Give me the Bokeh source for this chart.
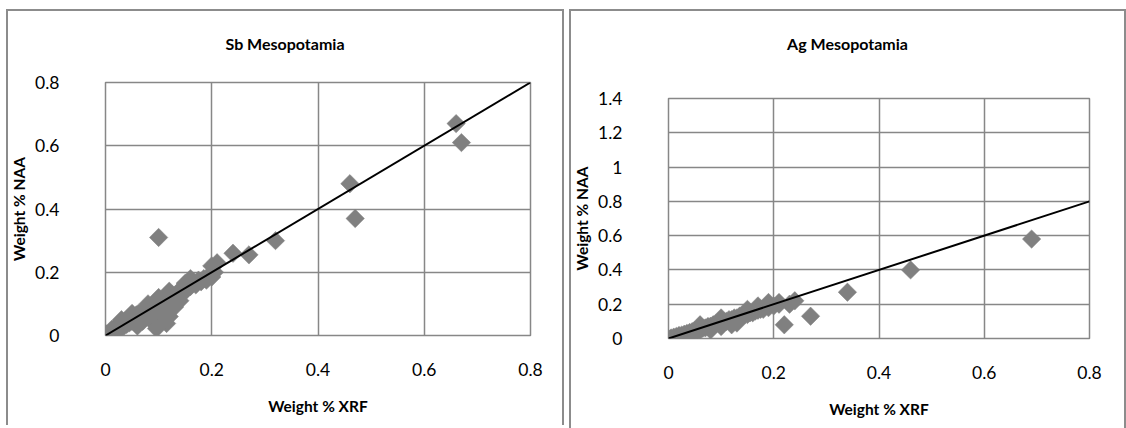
import math
from bokeh.plotting import figure
from bokeh.layouts import row, column
from bokeh.models import Range1d, FixedTicker, CustomJSTickFormatter, Div, Spacer
from bokeh.embed import file_html
from bokeh.resources import INLINE

# ---------------- data ----------------
sb_title = "Sb Mesopotamia"
ag_title = "Ag Mesopotamia"
x_label = "Weight % XRF"
y_label = "Weight % NAA"

sb_xrf = [0.0, 0.002, 0.005, 0.008, 0.01, 0.012, 0.015, 0.018, 0.02, 0.022, 0.025, 0.028,
          0.03, 0.032, 0.035, 0.038, 0.04, 0.042, 0.045, 0.048, 0.05, 0.052, 0.055, 0.058,
          0.06, 0.062, 0.065, 0.068, 0.07, 0.072, 0.075, 0.078, 0.08, 0.082, 0.085, 0.088,
          0.09, 0.092, 0.095, 0.098, 0.10, 0.10, 0.105, 0.11, 0.115, 0.12, 0.125, 0.13,
          0.135, 0.14, 0.145, 0.15, 0.15, 0.155, 0.16, 0.165, 0.17, 0.175, 0.18, 0.185,
          0.19, 0.195, 0.20, 0.20, 0.21, 0.205, 0.24, 0.27, 0.32, 0.10, 0.46, 0.47,
          0.66, 0.67, 0.12, 0.09, 0.10, 0.11, 0.13, 0.14, 0.06, 0.07, 0.03, 0.05,
          0.08, 0.12, 0.16, 0.115, 0.096]
sb_naa = [0.0, 0.005, 0.003, 0.01, 0.012, 0.02, 0.01, 0.025, 0.015, 0.03, 0.02, 0.035,
          0.025, 0.04, 0.03, 0.045, 0.035, 0.05, 0.04, 0.055, 0.045, 0.06, 0.05, 0.065,
          0.055, 0.07, 0.06, 0.075, 0.065, 0.08, 0.07, 0.085, 0.075, 0.09, 0.08, 0.095,
          0.085, 0.10, 0.09, 0.105, 0.095, 0.12, 0.10, 0.11, 0.12, 0.115, 0.13, 0.12,
          0.135, 0.13, 0.15, 0.14, 0.165, 0.15, 0.155, 0.17, 0.16, 0.175, 0.17, 0.18,
          0.175, 0.19, 0.185, 0.22, 0.23, 0.20, 0.26, 0.255, 0.30, 0.31, 0.48, 0.37,
          0.67, 0.61, 0.06, 0.04, 0.05, 0.08, 0.09, 0.11, 0.03, 0.045, 0.05, 0.07,
          0.10, 0.14, 0.18, 0.038, 0.022]

ag_xrf = [0.0, 0.005, 0.01, 0.015, 0.02, 0.025, 0.03, 0.035, 0.04, 0.045, 0.05, 0.055,
          0.06, 0.065, 0.07, 0.075, 0.08, 0.085, 0.09, 0.095, 0.10, 0.105, 0.11, 0.115,
          0.12, 0.125, 0.13, 0.135, 0.14, 0.145, 0.15, 0.155, 0.16, 0.165, 0.17, 0.175,
          0.18, 0.19, 0.20, 0.21, 0.23, 0.24, 0.22, 0.27, 0.34, 0.46, 0.69, 0.05,
          0.08, 0.10, 0.12, 0.13, 0.06, 0.10, 0.15, 0.17, 0.19, 0.21]
ag_naa = [0.0, 0.003, 0.008, 0.012, 0.018, 0.02, 0.025, 0.03, 0.035, 0.04, 0.045, 0.05,
          0.052, 0.06, 0.062, 0.07, 0.072, 0.08, 0.085, 0.09, 0.095, 0.10, 0.10, 0.11,
          0.11, 0.12, 0.12, 0.13, 0.13, 0.14, 0.14, 0.15, 0.15, 0.16, 0.165, 0.17,
          0.17, 0.18, 0.19, 0.20, 0.20, 0.22, 0.08, 0.13, 0.27, 0.40, 0.58, 0.02,
          0.05, 0.07, 0.08, 0.09, 0.08, 0.12, 0.17, 0.19, 0.21, 0.21]

ref_line_x = [0.0, 0.8]
ref_line_y = [0.0, 0.8]

x_ticks = [0, 0.2, 0.4, 0.6, 0.8]
sb_y_ticks = [0, 0.2, 0.4, 0.6, 0.8]
ag_y_ticks = [0, 0.2, 0.4, 0.6, 0.8, 1.0, 1.2, 1.4]

# ---------------- style ----------------
FONT = "Lato"
GRID = "#878787"
MARK = "#808080"
EDGE = "#8c8c8c"
fmt_code = "var s = tick.toFixed(1); if (s.endsWith('.0')) { s = s.slice(0, -2); } return s;"


def make_chart(title, xs, ys, y_max, y_ticks, fw, fh, bl, br, title_h):
    p = figure(frame_width=fw, frame_height=fh,
               x_range=Range1d(0, 0.8), y_range=Range1d(0, y_max),
               min_border_left=bl, min_border_right=br,
               min_border_top=10, min_border_bottom=90,
               output_backend="svg", toolbar_location=None)
    p.background_fill_color = "white"
    p.border_fill_alpha = 0
    p.outline_line_color = GRID
    p.outline_line_width = 1.5
    p.styles = {"background": "white",
                "box-shadow": f"inset 2px 0 0 {EDGE}, inset -2px 0 0 {EDGE}"}

    for ax in (p.xaxis[0], p.yaxis[0]):
        ax.axis_line_color = None
        ax.major_tick_line_color = None
        ax.minor_tick_line_color = None
        ax.major_tick_out = 0
        ax.major_tick_in = 0
        ax.minor_tick_out = 0
        ax.major_label_text_font = FONT
        ax.major_label_text_font_size = "17.5px"
        ax.major_label_text_color = "black"
        ax.axis_label_text_font = FONT
        ax.axis_label_text_font_size = "15.5px"
        ax.axis_label_text_font_style = "bold"
        ax.axis_label_text_color = "black"
        ax.formatter = CustomJSTickFormatter(code=fmt_code)
    p.xaxis[0].ticker = FixedTicker(ticks=x_ticks)
    p.yaxis[0].ticker = FixedTicker(ticks=y_ticks)
    p.xaxis[0].axis_label = x_label
    p.yaxis[0].axis_label = y_label
    p.xaxis[0].major_label_standoff = 27
    p.yaxis[0].major_label_standoff = 46
    p.xaxis[0].axis_label_standoff = 18
    p.yaxis[0].axis_label_standoff = 4

    p.xgrid.ticker = FixedTicker(ticks=x_ticks)
    p.ygrid.ticker = FixedTicker(ticks=y_ticks)
    for g in (p.xgrid[0], p.ygrid[0]):
        g.grid_line_color = GRID
        g.grid_line_width = 1.5

    p.scatter(xs, ys, marker="square", size=13, angle=math.pi / 4,
              fill_color=MARK, line_color=MARK, line_width=0.5)
    p.line(ref_line_x, ref_line_y, line_color="black", line_width=2)

    width = bl + fw + br
    head = Div(text=title, width=width, height=title_h, margin=0,
               styles={"font-family": FONT, "font-size": "16px",
                       "font-weight": "bold", "text-align": "center",
                       "line-height": "70px", "color": "black",
                       "background": "white",
                       "box-shadow": f"inset 2px 2px 0 {EDGE}, inset -2px 0 0 {EDGE}"})
    return column(head, p)


left = make_chart(sb_title, sb_xrf, sb_naa, 0.8, sb_y_ticks, 425, 253, 99, 34, 63)
right = make_chart(ag_title, ag_xrf, ag_naa, 1.4, ag_y_ticks, 421, 240, 99, 37, 79)

layout = column(Spacer(height=9),
                row(Spacer(width=6), left, Spacer(width=5), right))
open("out.html", "w").write(file_html(layout, INLINE))
